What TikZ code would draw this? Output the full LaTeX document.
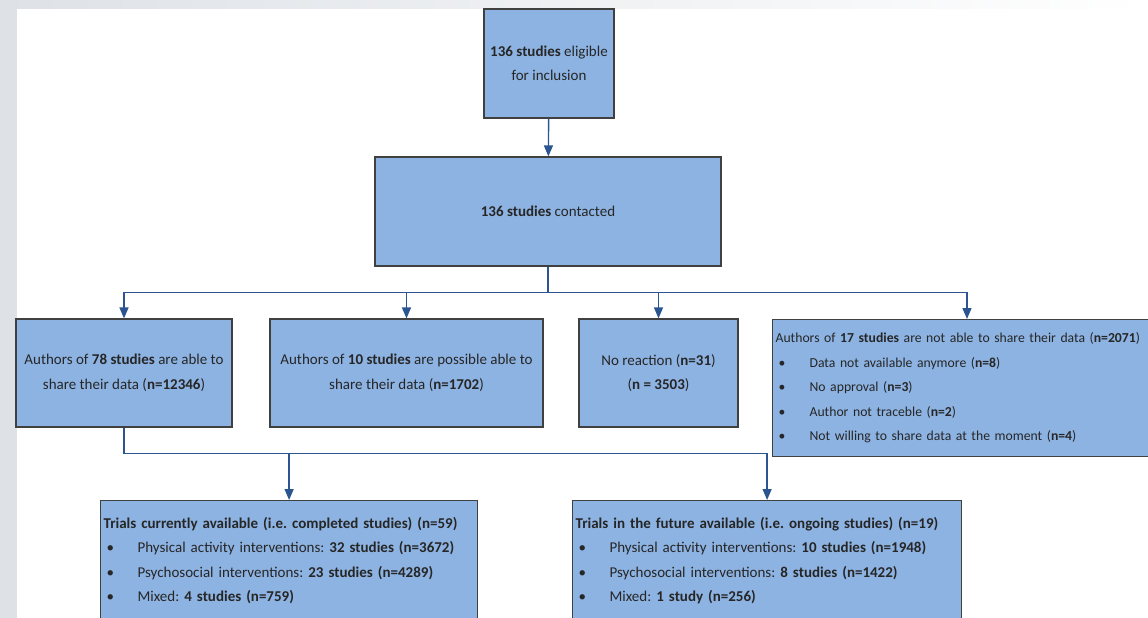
\documentclass[tikz,border=0pt]{standalone}
\usepackage{fontspec}
\setmainfont{Carlito}
\usetikzlibrary{arrows.meta}
\definecolor{boxblue}{HTML}{8DB3E2}
\definecolor{boxline}{HTML}{404040}
\definecolor{arrowblue}{HTML}{2A5590}
\definecolor{stripgray}{HTML}{DEE2E7}
\newcommand{\bul}{\makebox[34pt][l]{\hspace{3pt}\textbullet}}
\frenchspacing
\begin{document}
\begin{tikzpicture}[x=1pt, y=-1pt,
      font=\fontsize{15}{24.5}\selectfont, text=black!85,
      box/.style = {
        rectangle, draw=boxline, fill=boxblue, line width=1.2pt,
        align=center, inner sep=3pt },
      box-list/.style = {
        rectangle, draw=boxline, fill=boxblue, line width=1.2pt,
        align=left, inner sep=3pt, anchor=north west },
      line/.style = { draw=arrowblue, line width=1.4pt,
        -{Triangle[width=9pt, length=11pt]} }]
    \useasboundingbox (0,0) rectangle (1148,618);
    % page strips
    \fill[stripgray] (0,0) rectangle (17,618);
    \shade[left color=stripgray, right color=white] (0,0) rectangle (1148,9);
    \node [box, minimum width=130, minimum height=109] (eligible) at (549, 63.5)
      {\textbf{136 studies} eligible\\for inclusion};
    \node [box, minimum width=346, minimum height=109] (contacted) at (548, 211.5)
      {\textbf{136 studies} contacted};
    \node [box, minimum width=216, minimum height=108] (able) at (124, 373)
      {Authors of \textbf{78 studies} are able to\\share their data (\textbf{n=12346})};
    \node [box, minimum width=273, minimum height=108] (possible) at (406.5, 373)
      {Authors of \textbf{10 studies} are possible able to\\share their data (\textbf{n=1702})};
    \node [box, minimum width=159, minimum height=108] (noreaction) at (658.5, 373)
      {No reaction (\textbf{n=31})\\(\textbf{n = 3503})};
    \node [box-list, minimum width=500, minimum height=137, text width=494pt,
           font=\fontsize{13.7}{24.5}\selectfont] (notable) at (772, 319)
      {Authors of \textbf{17 studies} are not able to share their data (\textbf{n=2071})\\
       \bul Data not available anymore (\textbf{n=8})\\
       \bul No approval (\textbf{n=3})\\
       \bul Author not traceble (\textbf{n=2})\\
       \bul Not willing to share data at the moment (\textbf{n=4})};
    \node [box-list, minimum width=377, minimum height=120, text width=371pt] (completed) at (100, 500)
      {\textbf{Trials currently available (i.e. completed studies) (n=59)}\\
       \bul Physical activity interventions: \textbf{32 studies (n=3672)}\\
       \bul Psychosocial interventions: \textbf{23 studies (n=4289)}\\
       \bul Mixed: \textbf{4 studies (n=759)}};
    \node [box-list, minimum width=389, minimum height=120, text width=383pt] (ongoing) at (572, 500)
      {\textbf{Trials in the future available (i.e. ongoing studies) (n=19)}\\
       \bul Physical activity interventions: \textbf{10 studies (n=1948)}\\
       \bul Psychosocial interventions: \textbf{8 studies (n=1422)}\\
       \bul Mixed: \textbf{1 study (n=256)}};
    % connect all nodes defined above
    \draw[line] (eligible) -- (contacted);
    \draw[line] (contacted.south) -- ++(0,26) -| (able.north);
    \draw[line] (contacted.south) -- ++(0,26) -| (possible.north);
    \draw[line] (contacted.south) -- ++(0,26) -| (noreaction.north);
    \draw[line] (contacted.south) -- ++(0,26) -| ([xshift=195pt]notable.north west);
    \draw[line] (able.south) -- ++(0,26) -| (completed.north);
    \draw[line] (able.south) -- ++(0,26) -| (ongoing.north);
  \end{tikzpicture}
\end{document}
